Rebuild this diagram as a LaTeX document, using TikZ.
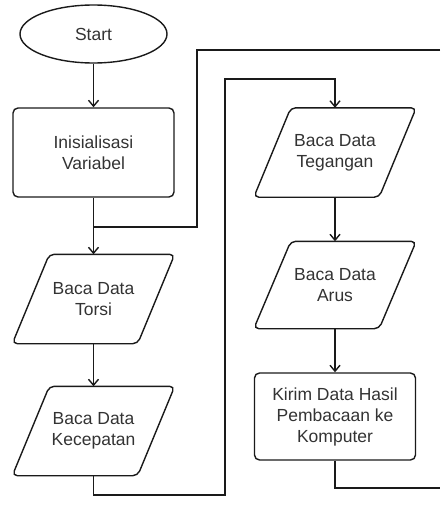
\documentclass[tikz,border=0pt]{standalone}
\usepackage{fontspec}
\setmainfont{Liberation Sans}
\usetikzlibrary{shapes.geometric,arrows.meta}
\definecolor{txt}{HTML}{333333}
\definecolor{ln}{HTML}{1A1A1A}
\tikzset{
  base/.style={draw=ln, line width=1.4pt, text=txt, align=center,
    font=\fontsize{17.5}{21}\selectfont, inner sep=2pt},
  term/.style={base, ellipse, minimum width=147pt, minimum height=58pt},
  proc/.style={base, rectangle, rounded corners=5pt, minimum width=161pt, minimum height=89pt},
  io/.style={base, draw=none, rectangle, minimum width=124pt, minimum height=88pt},
  ioline/.style={draw=ln, line width=1.4pt, rounded corners=5pt},
  conn/.style={draw=ln, line width=1.4pt},
  arr/.style={conn, -{Straight Barb[length=6pt,width=10pt,line width=1.4pt]}}
}
\newcommand\iobox[1]{\draw[ioline] ([xshift=-18.5pt]#1.south west) -- ([xshift=-18.5pt]#1.south east) -- ([xshift=18.5pt]#1.north east) -- ([xshift=18.5pt]#1.north west) -- cycle;}
\begin{document}
\begin{tikzpicture}[x=1pt,y=-1pt]
\useasboundingbox (0,0) rectangle (440,506);
\node[term] (start) at (93.5,34) {Start};
\node[proc] (init) at (93.5,152.5) {Inisialisasi\\Variabel};
\node[io] (torsi) at (93.5,299) {Baca Data\\Torsi};
\node[io] (kec) at (93.5,431) {Baca Data\\Kecepatan};
\node[io] (teg) at (335,152.5) {Baca Data\\Tegangan};
\node[io, minimum height=86pt] (arus) at (335,285) {Baca Data\\Arus};
\node[proc, minimum height=87pt] (kirim) at (335,416.5) {Kirim Data Hasil\\Pembacaan ke\\Komputer};
\iobox{torsi}
\iobox{kec}
\iobox{teg}
\iobox{arus}

\coordinate (loopin) at (440,50);
\coordinate (loopx) at (197,227);
\coordinate (j1) at (93.5,227);
\coordinate (c1) at (225,495);
\coordinate (c2) at (225,79);
\coordinate (loopout) at (440,488);

\draw[arr] (start) -- (init);
\draw[arr] (init) -- (torsi);
\draw[conn] (loopin) -| (loopx) -- (j1);
\draw[arr] (torsi) -- (kec);
\draw[arr] (kec.south) |- (c1) -- (c2) -| (teg.north);
\draw[arr] (teg) -- (arus);
\draw[arr] (arus) -- (kirim);
\draw[conn] (kirim.south) |- (loopout);
\end{tikzpicture}
\end{document}
